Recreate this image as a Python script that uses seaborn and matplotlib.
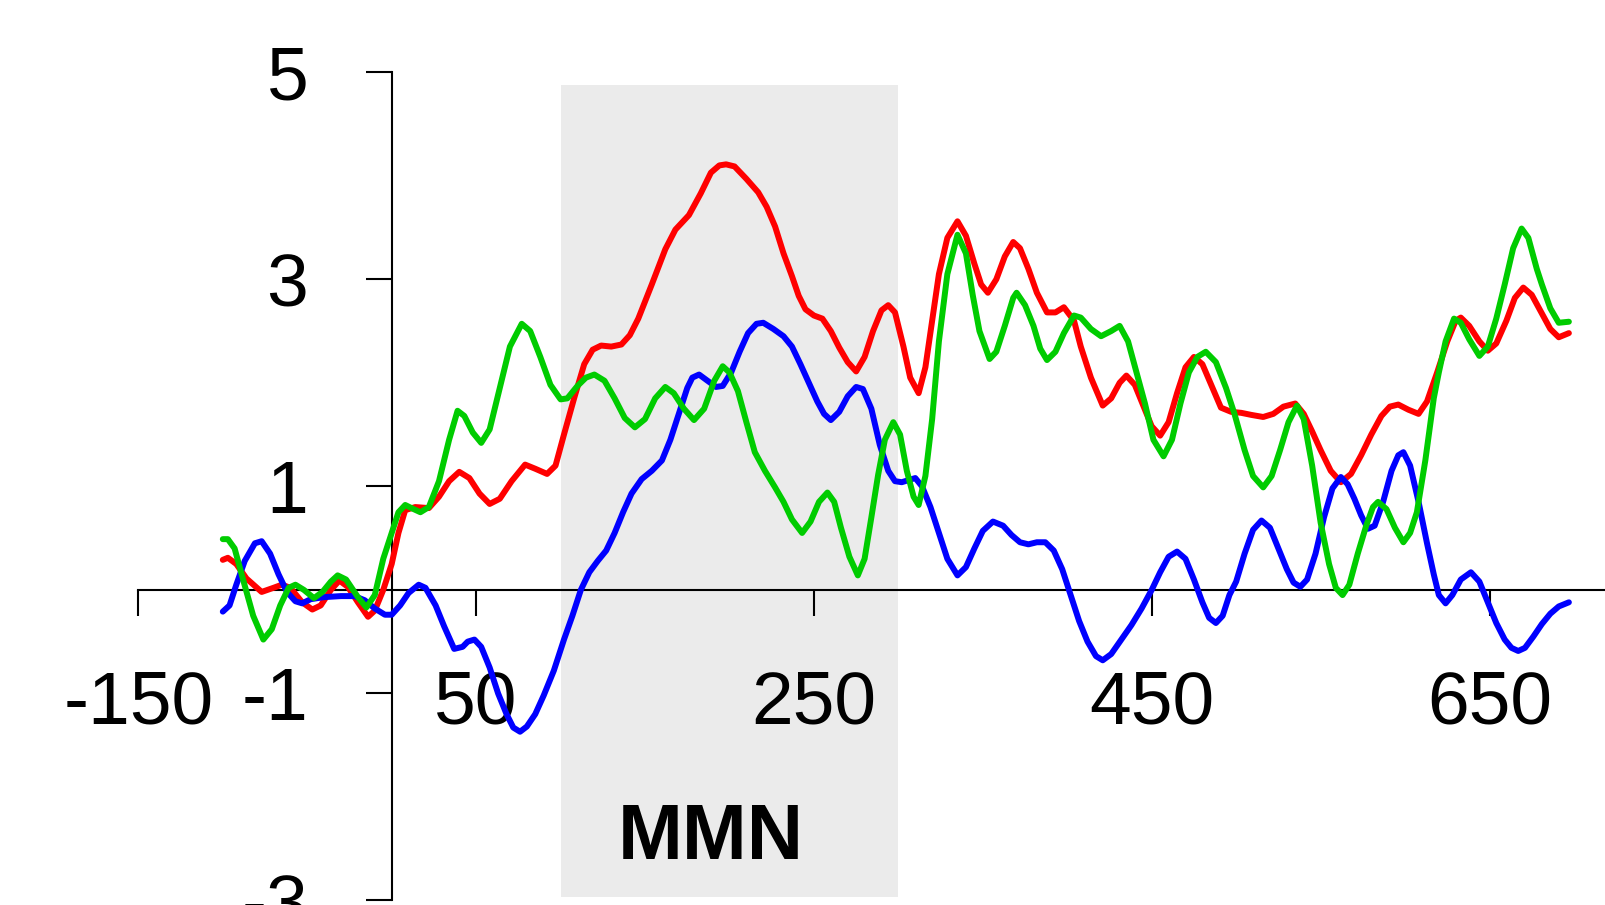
import numpy as np
import pandas as pd
import matplotlib
matplotlib.use("Agg")
import matplotlib.pyplot as plt
import seaborn as sns

# ---------------- data ----------------
t_red = [-100, -97, -92, -86, -77, -70, -65, -60, -53, -47, -42, -36, -31, -26, -20, -14, -10, -5,
         0, 4, 8, 14, 22, 28, 34, 40, 46, 52, 58, 64, 71, 79, 85, 92, 97, 102, 108, 114, 119, 124,
         130, 136, 141, 146, 154, 162, 168, 176, 183, 189, 194, 198, 203, 210, 217, 222, 227, 232,
         237, 241, 245, 250, 255, 260, 265, 270, 275, 280, 285, 290, 294, 298, 303, 307, 312, 316,
         320, 324, 329, 335, 340, 345, 349, 353, 358, 363, 368, 372, 377, 382, 388, 393, 398, 404,
         408, 414, 421, 426, 431, 435, 440, 445, 450, 455, 460, 465, 470, 475, 480, 486, 491, 497,
         503, 509, 516, 522, 528, 535, 540, 545, 550, 556, 562, 568, 574, 580, 586, 591, 596, 602,
         608, 613, 619, 625, 630, 633, 638, 644, 649, 654, 660, 665, 670, 675, 680, 686, 691, 697]
v_red = [0.29, 0.31, 0.25, 0.11, -0.02, 0.02, 0.05, 0.02, -0.12, -0.19, -0.15, 0.0, 0.09, 0.03, -0.12,
         -0.26, -0.2, 0.0, 0.25, 0.55, 0.77, 0.80, 0.79, 0.90, 1.05, 1.14, 1.08, 0.93, 0.83, 0.88,
         1.05, 1.21, 1.17, 1.12, 1.20, 1.50, 1.85, 2.18, 2.32, 2.36, 2.35, 2.37, 2.46, 2.62, 2.95,
         3.29, 3.48, 3.62, 3.83, 4.03, 4.10, 4.11, 4.09, 3.97, 3.84, 3.70, 3.51, 3.25, 3.03, 2.84,
         2.71, 2.65, 2.62, 2.50, 2.34, 2.20, 2.11, 2.25, 2.50, 2.70, 2.75, 2.68, 2.35, 2.05, 1.90,
         2.15, 2.60, 3.05, 3.40, 3.56, 3.42, 3.15, 2.95, 2.87, 3.00, 3.22, 3.36, 3.30, 3.10, 2.87,
         2.68, 2.68, 2.73, 2.60, 2.35, 2.05, 1.78, 1.85, 2.00, 2.07, 1.98, 1.78, 1.58, 1.49, 1.62,
         1.90, 2.15, 2.25, 2.18, 1.95, 1.76, 1.72, 1.71, 1.69, 1.67, 1.70, 1.77, 1.80, 1.70, 1.53,
         1.35, 1.15, 1.04, 1.12, 1.30, 1.50, 1.68, 1.77, 1.79, 1.74, 1.70, 1.82, 2.10, 2.40, 2.60,
         2.63, 2.55, 2.40, 2.31, 2.38, 2.60, 2.82, 2.92, 2.85, 2.70, 2.52, 2.44, 2.48]

t_blue = [-100, -96, -92, -87, -81, -77, -72, -67, -62, -57, -53, -48, -40, -30, -22, -16, -10, -4,
          0, 5, 10, 16, 20, 26, 31, 37, 42, 45, 49, 53, 58, 63, 68, 72, 76, 80, 85, 90, 96, 102, 107,
          112, 117, 122, 127, 132, 137, 142, 148, 154, 160, 165, 170, 175, 178, 182, 187, 192, 196,
          201, 206, 211, 216, 220, 226, 232, 237, 242, 247, 252, 256, 260, 265, 270, 275, 279, 284,
          289, 294, 298, 302, 306, 310, 314, 319, 324, 329, 335, 340, 345, 350, 356, 362, 367, 372,
          377, 382, 387, 392, 397, 402, 407, 412, 417, 421, 426, 432, 438, 444, 450, 455, 460, 465,
          470, 475, 480, 484, 488, 492, 496, 500, 505, 510, 515, 520, 525, 530, 534, 538, 542, 547,
          552, 557, 562, 566, 570, 574, 578, 582, 587, 592, 596, 599, 603, 608, 613, 617, 620, 624,
          628, 633, 639, 644, 649, 654, 659, 663, 667, 671, 676, 681, 686, 691, 697]
v_blue = [-0.21, -0.15, 0.05, 0.28, 0.45, 0.47, 0.35, 0.15, -0.02, -0.11, -0.13, -0.09, -0.07, -0.06,
          -0.06, -0.10, -0.18, -0.24, -0.24, -0.15, -0.03, 0.05, 0.02, -0.15, -0.35, -0.57, -0.55,
          -0.50, -0.48, -0.55, -0.75, -1.00, -1.20, -1.33, -1.37, -1.32, -1.20, -1.02, -0.78, -0.48,
          -0.25, 0.00, 0.17, 0.28, 0.38, 0.55, 0.75, 0.93, 1.07, 1.15, 1.25, 1.45, 1.70, 1.95, 2.05,
          2.08, 2.02, 1.96, 1.97, 2.10, 2.30, 2.48, 2.57, 2.58, 2.52, 2.45, 2.35, 2.18, 2.00, 1.82,
          1.70, 1.64, 1.72, 1.87, 1.96, 1.94, 1.75, 1.40, 1.15, 1.05, 1.04, 1.06, 1.08, 1.00, 0.80,
          0.55, 0.30, 0.14, 0.22, 0.40, 0.57, 0.66, 0.62, 0.53, 0.46, 0.44, 0.46, 0.46, 0.38, 0.20,
          -0.05, -0.30, -0.50, -0.64, -0.68, -0.62, -0.48, -0.34, -0.18, 0.00, 0.17, 0.32, 0.37, 0.30,
          0.10, -0.12, -0.27, -0.32, -0.25, -0.05, 0.08, 0.35, 0.58, 0.67, 0.60, 0.40, 0.20, 0.07,
          0.03, 0.10, 0.35, 0.70, 0.98, 1.09, 1.02, 0.88, 0.72, 0.59, 0.62, 0.85, 1.15, 1.30, 1.33,
          1.20, 0.85, 0.45, 0.15, -0.05, -0.13, -0.05, 0.10, 0.17, 0.08, -0.12, -0.32, -0.48, -0.56,
          -0.59, -0.56, -0.45, -0.33, -0.23, -0.16, -0.12]

t_green = [-100, -97, -93, -88, -82, -76, -71, -66, -61, -57, -52, -46, -41, -36, -32, -27, -20, -15,
           -10, -5, 0, 4, 8, 13, 17, 22, 28, 34, 39, 43, 48, 53, 58, 64, 70, 77, 82, 88, 94, 100, 104,
           110, 115, 120, 126, 132, 138, 144, 150, 156, 162, 167, 173, 179, 185, 191, 196, 200, 205,
           210, 215, 221, 227, 232, 237, 243, 248, 253, 258, 262, 266, 271, 276, 280, 284, 288, 292,
           297, 301, 305, 309, 312, 316, 320, 324, 329, 335, 340, 344, 348, 354, 358, 363, 368, 370,
           375, 380, 384, 388, 393, 398, 404, 408, 414, 420, 426, 431, 436, 441, 446, 451, 457, 462,
           467, 472, 477, 482, 488, 494, 499, 505, 510, 516, 521, 526, 531, 536, 540, 545, 550, 555,
           559, 563, 567, 572, 577, 581, 584, 589, 594, 599, 603, 607, 612, 617, 620, 624, 629, 633,
           638, 644, 649, 654, 659, 664, 669, 673, 678, 681, 686, 691, 697]
v_green = [0.49, 0.49, 0.40, 0.10, -0.25, -0.48, -0.38, -0.15, 0.02, 0.05, 0.00, -0.08, -0.02, 0.08,
           0.14, 0.10, -0.07, -0.17, -0.05, 0.30, 0.55, 0.75, 0.82, 0.78, 0.75, 0.80, 1.05, 1.45,
           1.73, 1.68, 1.52, 1.42, 1.55, 1.95, 2.35, 2.57, 2.50, 2.25, 1.98, 1.84, 1.85, 1.97, 2.05,
           2.08, 2.02, 1.85, 1.66, 1.57, 1.65, 1.85, 1.96, 1.90, 1.75, 1.64, 1.75, 2.02, 2.16, 2.10,
           1.92, 1.62, 1.33, 1.15, 0.99, 0.85, 0.68, 0.55, 0.66, 0.85, 0.94, 0.85, 0.60, 0.32, 0.14,
           0.30, 0.70, 1.11, 1.45, 1.62, 1.50, 1.15, 0.90, 0.82, 1.10, 1.65, 2.40, 3.05, 3.43, 3.25,
           2.85, 2.50, 2.23, 2.30, 2.55, 2.82, 2.87, 2.75, 2.55, 2.33, 2.22, 2.30, 2.48, 2.65, 2.63,
           2.52, 2.45, 2.50, 2.55, 2.40, 2.10, 1.80, 1.45, 1.29, 1.45, 1.80, 2.10, 2.25, 2.30, 2.20,
           1.95, 1.70, 1.35, 1.10, 0.99, 1.10, 1.35, 1.62, 1.78, 1.65, 1.20, 0.65, 0.25, 0.02, -0.05,
           0.05, 0.35, 0.62, 0.80, 0.85, 0.78, 0.60, 0.46, 0.55, 0.75, 1.25, 1.85, 2.10, 2.40, 2.62,
           2.58, 2.42, 2.26, 2.35, 2.62, 2.95, 3.30, 3.49, 3.40, 3.10, 2.95, 2.72, 2.58, 2.59]

x_ticks = [-150, 50, 250, 450, 650]
y_ticks = [-3, -1, 1, 3, 5]
band_start, band_end = 100, 300
band_bottom, band_top = -2.97, 4.88
band_label = "MMN"

# ---------------- figure ----------------
sns.set_theme(style="white")
plt.rcParams["font.family"] = ["Liberation Sans", "DejaVu Sans"]
plt.rcParams["text.color"] = "black"
plt.rcParams["xtick.color"] = "black"
plt.rcParams["ytick.color"] = "black"

fig = plt.figure(figsize=(16.05, 9.05), dpi=100)
ax = fig.add_axes([0.0862, 0.005, 0.9155, 0.9152])
ax.set_facecolor("white")

ax.fill_between([band_start, band_end], band_bottom, band_top, color="#EBEBEB", lw=0, zorder=0)

LW = 4.3
series = [("red", t_red, v_red, "#FF0000"),
          ("blue", t_blue, v_blue, "#0000FF"),
          ("green", t_green, v_green, "#00CC00")]
for i, (name, t, v, c) in enumerate(series):
    df = pd.DataFrame({"time": t, "value": v})
    sns.lineplot(data=df, x="time", y="value", color=c, linewidth=LW, ax=ax,
                 errorbar=None, zorder=3 + i)
for line in ax.get_lines():
    line.set_linewidth(LW)
    line.set_solid_joinstyle("round")
    line.set_solid_capstyle("round")

ax.set_xlim(-150, 720)
ax.set_ylim(-3, 5)
ax.set_xticks(x_ticks)
ax.set_yticks(y_ticks)
ax.set_xticklabels([str(v) for v in x_ticks])
ax.set_yticklabels([str(v) for v in y_ticks])
ax.set_xlabel("")
ax.set_ylabel("")

for s in ["top", "right"]:
    ax.spines[s].set_visible(False)
ax.spines["left"].set_position(("data", 0))
ax.spines["bottom"].set_position(("data", 0))
for s in ["left", "bottom"]:
    ax.spines[s].set_color("black")
    ax.spines[s].set_linewidth(1.5)
    ax.spines[s].set_zorder(2)

ax.tick_params(axis="x", direction="out", length=19, width=1.5, color="black",
               labelcolor="black", labelsize=54, pad=38, bottom=True)
ax.tick_params(axis="y", direction="out", length=19, width=1.5, color="black",
               labelcolor="black", labelsize=54, pad=41, left=True)

ax.text((band_start + band_end) / 2 - 11, -2.40, band_label, ha="center", va="center",
        fontsize=56, fontweight="bold", color="black")

fig.savefig("out.png", dpi=100)
